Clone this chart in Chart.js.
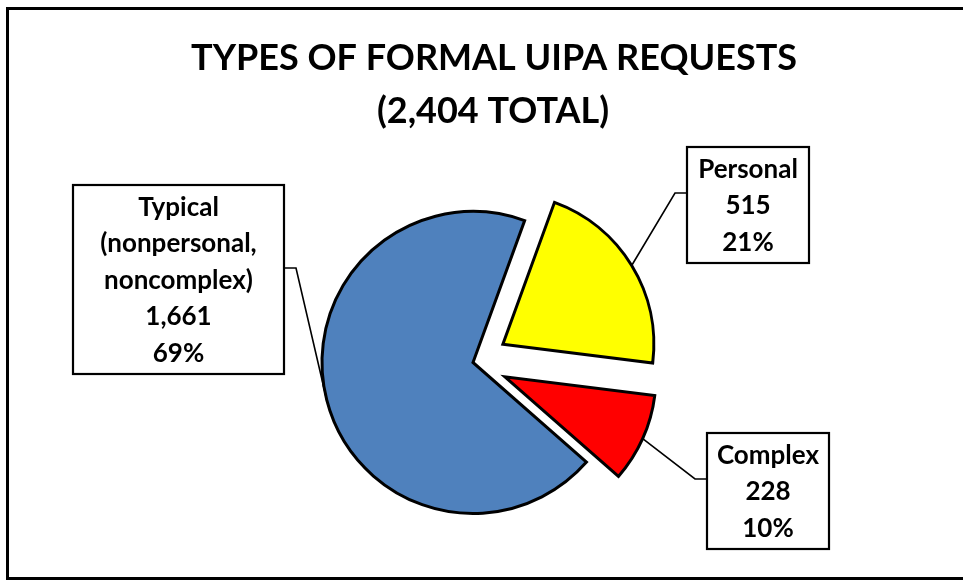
<!DOCTYPE html>
<html>
<head>
<meta charset="utf-8">
<script src="https://cdn.jsdelivr.net/npm/chart.js@4"></script>
<style>
  html, body { margin: 0; padding: 0; background: #fff; }
  #wrap { position: relative; width: 963px; height: 582px; }
</style>
</head>
<body>
<div id="wrap"><canvas id="uipa-chart" width="963" height="582"></canvas></div>
<script>
// datos del grafico
var titleLines = ['TYPES OF FORMAL UIPA REQUESTS', '(2,404 TOTAL)'];
var categories = ['Personal', 'Complex', 'Typical'];
var categoryLines = [['Personal'], ['Complex'], ['Typical', '(nonpersonal,', 'noncomplex)']];
var requestCounts = [515, 228, 1661];
var percentLabels = ['21%', '10%', '69%'];
var sliceColors = ['#FFFF00', '#FF0000', '#4F81BD'];

var FONT = 'Lato, "Liberation Sans", sans-serif';

// cajas de etiquetas (posicion en pixeles de la pagina)
var calloutBoxes = [
  { x: 687, y: 147, w: 122, h: 116, lineY: 193, side: 'left' },
  { x: 707, y: 433, w: 122, h: 116, lineY: 479, side: 'left' },
  { x: 73, y: 185, w: 211, h: 189, lineY: 268, side: 'right' }
];

// el offset de Chart.js agranda los sectores pequeños; aqui solo se desplazan
var baseArcDraw = Chart.ArcElement.prototype.draw;
Chart.ArcElement.prototype.draw = function(ctx) {
  var shift = this.options.offset || 0;
  if (!shift) return baseArcDraw.call(this, ctx);
  var mid = (this.startAngle + this.endAngle) / 2;
  var opts = this.options;
  ctx.save();
  ctx.translate(Math.cos(mid) * shift, Math.sin(mid) * shift);
  this.options = Object.assign({}, opts, { offset: 0 });
  baseArcDraw.call(this, ctx);
  this.options = opts;
  ctx.restore();
};

var framePlugin = {
  id: 'frameAndTitle',
  beforeDraw: function(chart) {
    var ctx = chart.ctx;
    ctx.save();
    ctx.fillStyle = '#fff';
    ctx.fillRect(0, 0, chart.width, chart.height);
    ctx.strokeStyle = '#000';
    ctx.lineWidth = 3;
    ctx.strokeRect(7.5, 8.5, 1000, 570);
    ctx.fillStyle = '#000';
    ctx.font = 'bold 36px ' + FONT;
    ctx.textAlign = 'center';
    ctx.textBaseline = 'middle';
    ctx.fillText(titleLines[0], 494, 58);
    ctx.fillText(titleLines[1], 493, 111);
    ctx.restore();
  }
};

var calloutPlugin = {
  id: 'callouts',
  afterDatasetsDraw: function(chart) {
    var ctx = chart.ctx;
    var arcs = chart.getDatasetMeta(0).data;
    ctx.save();
    arcs.forEach(function(arc, i) {
      var box = calloutBoxes[i];
      var mid = (arc.startAngle + arc.endAngle) / 2;
      var shift = arc.options.offset || 0;
      var px = arc.x + Math.cos(mid) * (shift + arc.outerRadius);
      var py = arc.y + Math.sin(mid) * (shift + arc.outerRadius);
      var edgeX = box.side === 'left' ? box.x : box.x + box.w;
      var elbowX = box.side === 'left' ? edgeX - 12 : edgeX + 12;

      ctx.strokeStyle = '#000';
      ctx.lineWidth = 1.6;
      ctx.beginPath();
      ctx.moveTo(px, py);
      ctx.lineTo(elbowX, box.lineY);
      ctx.lineTo(edgeX, box.lineY);
      ctx.stroke();

      ctx.fillStyle = '#fff';
      ctx.fillRect(box.x, box.y, box.w, box.h);
      ctx.lineWidth = 2.2;
      ctx.strokeRect(box.x, box.y, box.w, box.h);

      var lines = categoryLines[i].concat([requestCounts[i].toLocaleString('en-US'), percentLabels[i]]);
      var lh = 36.5;
      var top = box.y + box.h / 2 - (lines.length - 1) * lh / 2 + 1;
      ctx.fillStyle = '#000';
      ctx.font = 'bold 26px ' + FONT;
      ctx.textAlign = 'center';
      ctx.textBaseline = 'middle';
      lines.forEach(function(t, k) {
        ctx.fillText(t, box.x + box.w / 2, top + k * lh);
      });
    });
    ctx.restore();
  }
};

var ctx = document.getElementById('uipa-chart').getContext('2d');
var myChart = new Chart(ctx, {
  type: 'pie',
  data: {
    labels: categories,
    datasets: [{
      data: requestCounts,
      backgroundColor: sliceColors,
      borderColor: '#000',
      borderWidth: 3,
      borderJoinStyle: 'miter',
      offset: [35, 35, 0]
    }]
  },
  options: {
    responsive: false,
    animation: false,
    rotation: 20,
    radius: 151,
    layout: { padding: { left: 0, right: 17, top: 143, bottom: 0 } },
    plugins: {
      legend: { display: false },
      tooltip: { enabled: false },
      title: { display: false }
    }
  },
  plugins: [framePlugin, calloutPlugin]
});
</script>
</body>
</html>
